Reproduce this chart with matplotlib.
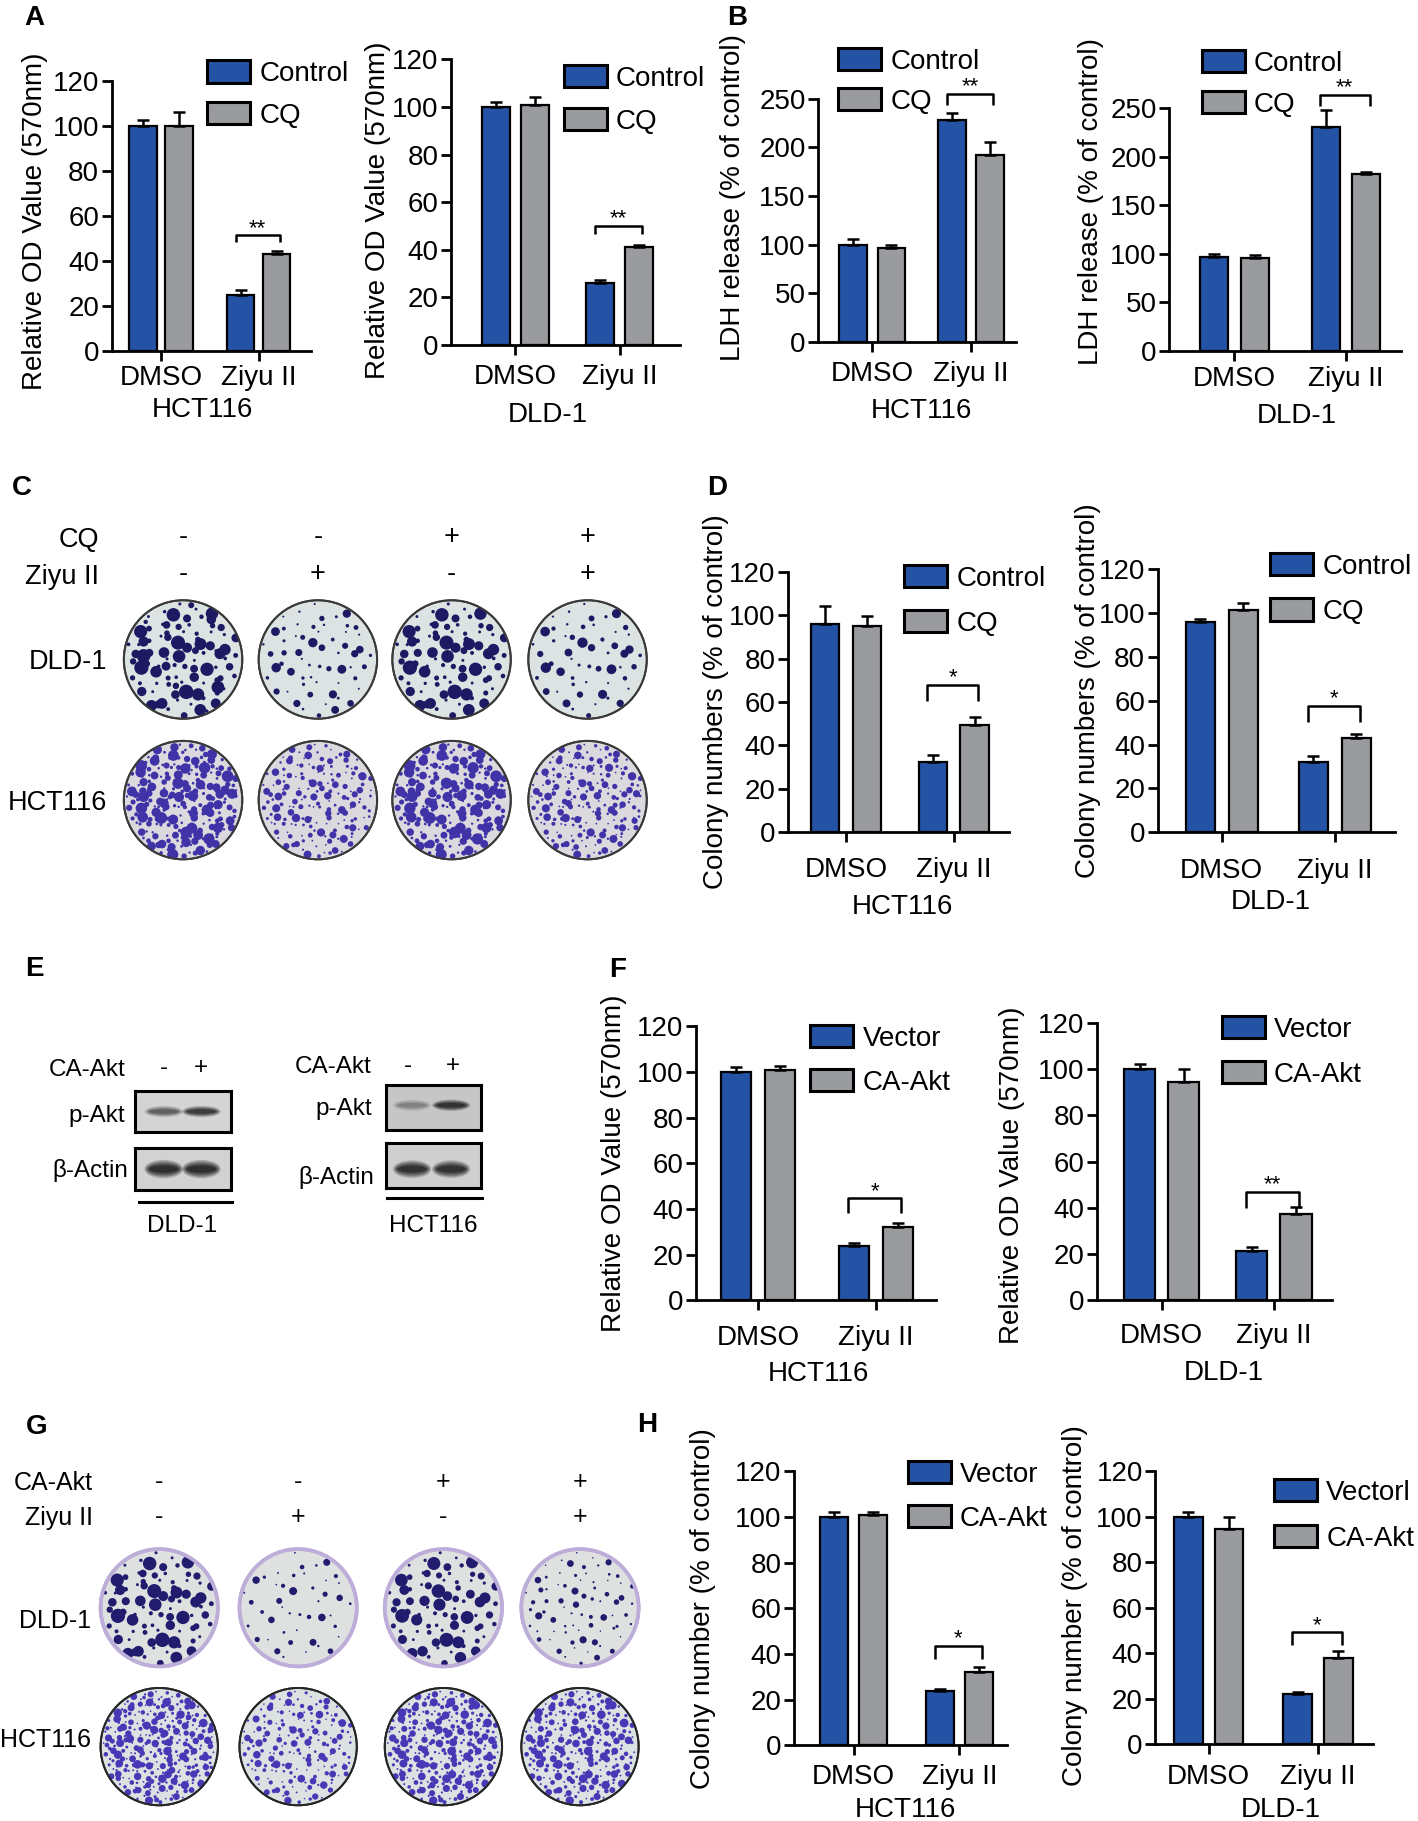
import matplotlib
matplotlib.use('Agg')
import matplotlib.pyplot as plt
import matplotlib.transforms as mtrans
from matplotlib.patches import Rectangle, Circle, Ellipse
from matplotlib.lines import Line2D
import numpy as np

plt.rcParams['font.family'] = ['Liberation Sans', 'DejaVu Sans']

# ------------------------------------------------------------------ data
groups = ['DMSO', 'Ziyu II']

A_hct_control, A_hct_control_err = [100, 25], [3, 2]
A_hct_cq, A_hct_cq_err = [100, 43], [6.5, 1.3]
A_dld_control, A_dld_control_err = [100, 26], [2, 1.2]
A_dld_cq, A_dld_cq_err = [101, 41], [3, 1.2]

B_hct_control, B_hct_control_err = [100, 228], [5.5, 7]
B_hct_cq, B_hct_cq_err = [96, 192], [4, 14]
B_dld_control, B_dld_control_err = [97, 231], [2.5, 17]
B_dld_cq, B_dld_cq_err = [96, 182], [2.5, 2.5]

D_hct_control, D_hct_control_err = [96, 32.5], [8, 3]
D_hct_cq, D_hct_cq_err = [95, 49.5], [4.5, 3.5]
D_dld_control, D_dld_control_err = [96, 32], [1.5, 2.7]
D_dld_cq, D_dld_cq_err = [101.5, 43], [3, 1.7]

F_hct_vector, F_hct_vector_err = [100, 24], [2, 1]
F_hct_caakt, F_hct_caakt_err = [101, 32], [1.5, 2]
F_dld_vector, F_dld_vector_err = [100, 21.5], [2, 1.5]
F_dld_caakt, F_dld_caakt_err = [94.5, 37.5], [5.5, 3]

H_hct_vector, H_hct_vector_err = [100, 24], [2, 0.8]
H_hct_caakt, H_hct_caakt_err = [101, 32], [1.3, 2.2]
H_dld_vector, H_dld_vector_err = [100, 22], [2, 1.2]
H_dld_caakt, H_dld_caakt_err = [94.5, 38], [5.5, 3]

legend_cq = ['Control', 'CQ']
legend_akt = ['Vector', 'CA-Akt']
legend_akt_typo = ['Vectorl', 'CA-Akt']

ylab_od = 'Relative OD Value (570nm)'
ylab_ldh = 'LDH release (% of control)'
ylab_cols = 'Colony numbers (% of control)'
ylab_col = 'Colony number (% of control)'

# significance: label, bracket top, bracket leg end (data units)
sig_A = [('**', 51.4, 48.4), ('**', 50.2, 46.7)]
sig_B = [('**', 255, 244), ('**', 263.8, 251.7)]
sig_D = [('*', 68, 60.4), ('*', 57.7, 50.4)]
sig_F = [('*', 44.7, 38.3), ('**', 46.8, 40.1)]
sig_H = [('*', 43.5, 37.7), ('*', 49.3, 43.5)]

# colony-formation plates
C_treat_rows = [('CQ', ['-', '-', '+', '+']), ('Ziyu II', ['-', '+', '-', '+'])]
G_treat_rows = [('CA-Akt', ['-', '-', '+', '+']), ('Ziyu II', ['-', '+', '-', '+'])]
plate_rows = ['DLD-1', 'HCT116']
C_counts = [[95, 60, 85, 55], [210, 170, 200, 190]]
C_sizes = [[6.0, 4.0, 6.0, 4.4], [4.8, 3.4, 4.8, 3.4]]
G_counts = [[85, 45, 80, 75], [290, 180, 270, 240]]
G_sizes = [[6.0, 3.4, 5.8, 3.0], [3.5, 3.2, 3.6, 3.6]]

# western blots (relative band intensity per lane)
blot_lanes = ['-', '+']
E_dld_pakt = [0.55, 0.85]
E_dld_actin = [1.0, 1.0]
E_hct_pakt = [0.3, 0.95]
E_hct_actin = [0.95, 0.95]

# ------------------------------------------------------------------ layout helpers
BLUE = '#2453a6'
GRAY = '#9a9b9f'
W, H = 1220.0, 1567.0
fig = plt.figure(figsize=(14.18, 18.21), dpi=100)
EM = 0.358


def frect(x0, y0, x1, y1):
    return [x0 / W, 1 - y1 / H, (x1 - x0) / W, (y1 - y0) / H]


def ftext(x, y, s, fs, ha='left', **kw):
    tr = mtrans.offset_copy(fig.transFigure, fig=fig, x=0, y=-EM * fs, units='points')
    return fig.text(x / W, 1 - y / H, s, fontsize=fs, ha=ha, va='baseline', transform=tr, **kw)


def fline(x0, x1, y, lw=2.0):
    fig.add_artist(Line2D([x0 / W, x1 / W], [1 - y / H, 1 - y / H], transform=fig.transFigure,
                          color='black', lw=lw))


def legend(lx, ly, pitch, names, colors, fs=20):
    for i, (n, c) in enumerate(zip(names, colors)):
        top = ly + i * pitch
        fig.add_artist(Rectangle((lx / W, 1 - (top + 19) / H), 37 / W, 19 / H,
                                 transform=fig.transFigure, facecolor=c,
                                 edgecolor='black', lw=2.2))
        ftext(lx + 45, top + 9.5, n, fs)


def bar_chart(lay, s1, e1, s2, e2, names, ylabel, cell, sig, ymax=120, ystep=20):
    L, R, T, B = lay['box']
    c0, c1 = lay['c']
    sp = c1 - c0
    ax = fig.add_axes(frect(L, T, R, B))
    x = np.arange(len(groups))
    w = lay['bw'] / sp
    d = lay['hs'] / sp
    for xs, vals, errs, col in [(x - d, s1, e1, BLUE), (x + d, s2, e2, GRAY)]:
        ax.bar(xs, vals, w, color=col, edgecolor='black', linewidth=1.6, zorder=2)
        ax.errorbar(xs, vals, yerr=[np.zeros(len(errs)), errs], fmt='none', ecolor='black',
                    elinewidth=1.8, capsize=4.5, capthick=1.8, zorder=3)
    ax.set_xlim((L - c0) / sp, (R - c0) / sp)
    ax.set_ylim(0, ymax)
    ax.set_yticks(np.arange(0, ymax + 1, ystep))
    ax.set_xticks(x)
    ax.set_xticklabels(groups)
    for s in ['top', 'right']:
        ax.spines[s].set_visible(False)
    for s in ['left', 'bottom']:
        ax.spines[s].set_linewidth(2.0)
        ax.spines[s].set_capstyle('projecting')
    ax.set_facecolor('none')
    pad = max((lay['ty'] - B - 8.6 - 9) * 0.837, 0.5)
    ax.tick_params(axis='x', length=7.5, width=2.0, labelsize=20, pad=pad)
    ax.tick_params(axis='y', length=7.5, width=2.0, labelsize=20, pad=1.5)
    ax.set_ylabel(ylabel, fontsize=20, va='center')
    yx, yy = lay['yl']
    ax.yaxis.set_label_coords((yx - L) / (R - L), (B - yy) / (B - T))
    ax.set_xlabel(cell, fontsize=20, va='center')
    cx, cy = lay['cl']
    ax.xaxis.set_label_coords((cx - L) / (R - L), (B - (cy + 2.4)) / (B - T))
    lab, top, leg = sig
    xa, xb = 1 - d - 0.05, 1 + d + 0.03
    ax.plot([xa, xa, xb, xb], [leg, top, top, leg], color='black', lw=1.8, clip_on=False,
            solid_capstyle='butt')
    ax.annotate(lab, xy=((xa + xb) / 2, top), xytext=(0, 1), textcoords='offset points',
                ha='center', va='baseline', fontsize=16, annotation_clip=False)
    lx, ly, lp = lay['lg']
    legend(lx, ly, lp, names, [BLUE, GRAY])
    return ax


def halton(n, base):
    out = np.zeros(n)
    for i in range(n):
        f, r, k = 1.0, 0.0, i + 1
        while k > 0:
            f /= base
            r += f * (k % base)
            k //= base
        out[i] = r
    return out


def plate(xc, yc, diam, n, size, face, edge, elw, colony):
    ax = fig.add_axes(frect(xc - diam / 2, yc - diam / 2, xc + diam / 2, yc + diam / 2))
    ax.set_xlim(-1.04, 1.04)
    ax.set_ylim(-1.04, 1.04)
    ax.set_aspect('equal')
    ax.axis('off')
    dish = Circle((0, 0), 1, facecolor=face, edgecolor=edge, lw=elw, zorder=1)
    ax.add_patch(dish)
    rr = 0.97 * np.sqrt(halton(n, 2))
    th = 2 * np.pi * halton(n, 3)
    sz = size * (0.35 + 1.45 * halton(n, 5) ** 2)
    sc = ax.scatter(rr * np.cos(th), rr * np.sin(th), s=sz ** 2, c=colony,
                    edgecolors='none', zorder=2)
    sc.set_clip_path(dish)
    ax.add_patch(Circle((0, 0), 1, facecolor='none', edgecolor=edge, lw=elw, zorder=3))


def blot(box, intens, bh, by, face, lanes=(0.6, 1.38)):
    ax = fig.add_axes(frect(*box))
    ax.set_xlim(0, 2)
    ax.set_ylim(0, 1)
    ax.set_facecolor(face)
    ax.set_xticks([])
    ax.set_yticks([])
    for s in ax.spines.values():
        s.set_linewidth(2.2)
    for lx, it in zip(lanes, intens):
        for f, a in [(1.0, 0.22), (0.82, 0.3), (0.62, 0.4), (0.4, 0.5)]:
            ax.add_patch(Ellipse((lx, by), 0.8 * (0.6 + 0.4 * f), bh * f,
                                 facecolor='#101010', edgecolor='none', alpha=a * it))


# ------------------------------------------------------------------ panel A
bar_chart(dict(box=(96, 268, 70, 302), c=(138.5, 222.5), bw=23.5, hs=15.5, ty=323,
               yl=(30, 190), cl=(174, 350), lg=(178, 52, 36)),
          A_hct_control, A_hct_control_err, A_hct_cq, A_hct_cq_err,
          legend_cq, ylab_od, 'HCT116', sig_A[0])
bar_chart(dict(box=(388, 585, 51, 297), c=(443.5, 533), bw=24, hs=17, ty=322,
               yl=(325, 181), cl=(471, 355), lg=(485, 56, 37)),
          A_dld_control, A_dld_control_err, A_dld_cq, A_dld_cq_err,
          legend_cq, ylab_od, 'DLD-1', sig_A[1])

# ------------------------------------------------------------------ panel B
bar_chart(dict(box=(704, 874, 85, 294), c=(750.5, 835.5), bw=24, hs=16.5, ty=319,
               yl=(631, 170), cl=(793, 351), lg=(721, 41, 35)),
          B_hct_control, B_hct_control_err, B_hct_cq, B_hct_cq_err,
          legend_cq, ylab_ldh, 'HCT116', sig_B[0], ymax=250, ystep=50)
bar_chart(dict(box=(1006, 1205, 93, 302), c=(1062, 1158), bw=24, hs=17.5, ty=324,
               yl=(939, 173), cl=(1116, 356), lg=(1034, 43, 35)),
          B_dld_control, B_dld_control_err, B_dld_cq, B_dld_cq_err,
          legend_cq, ylab_ldh, 'DLD-1', sig_B[1], ymax=250, ystep=50)

# ------------------------------------------------------------------ panel D
bar_chart(dict(box=(678, 868, 492, 716), c=(728, 820.5), bw=24.5, hs=18, ty=746,
               yl=(616, 604), cl=(776, 778), lg=(778, 486, 39)),
          D_hct_control, D_hct_control_err, D_hct_cq, D_hct_cq_err,
          legend_cq, ylab_cols, 'HCT116', sig_D[0])
bar_chart(dict(box=(996, 1200, 490, 716), c=(1051, 1148.5), bw=25, hs=18.5, ty=747,
               yl=(936, 594), cl=(1093, 774), lg=(1093, 476, 39)),
          D_dld_control, D_dld_control_err, D_dld_cq, D_dld_cq_err,
          legend_cq, ylab_cols, 'DLD-1', sig_D[1])

# ------------------------------------------------------------------ panel F
bar_chart(dict(box=(599, 805, 883, 1119), c=(652, 753.5), bw=25.5, hs=19, ty=1149,
               yl=(528, 1001), cl=(704, 1180), lg=(697, 882, 38)),
          F_hct_vector, F_hct_vector_err, F_hct_caakt, F_hct_caakt_err,
          legend_akt, ylab_od, 'HCT116', sig_F[0])
bar_chart(dict(box=(944, 1146, 880, 1119), c=(999.5, 1096), bw=27, hs=19, ty=1147,
               yl=(871, 1011), cl=(1053, 1179), lg=(1051, 874, 39)),
          F_dld_vector, F_dld_vector_err, F_dld_caakt, F_dld_caakt_err,
          legend_akt, ylab_od, 'DLD-1', sig_F[1])

# ------------------------------------------------------------------ panel H
bar_chart(dict(box=(683, 866, 1266, 1502), c=(734.5, 825.5), bw=24, hs=16.8, ty=1527,
               yl=(605, 1384), cl=(779, 1555), lg=(781, 1257, 38)),
          H_hct_vector, H_hct_vector_err, H_hct_caakt, H_hct_caakt_err,
          legend_akt, ylab_col, 'HCT116', sig_H[0])
bar_chart(dict(box=(994, 1181, 1266, 1501), c=(1040, 1134), bw=24.5, hs=17.5, ty=1527,
               yl=(925, 1382), cl=(1102, 1555), lg=(1096, 1273, 39)),
          H_dld_vector, H_dld_vector_err, H_dld_caakt, H_dld_caakt_err,
          legend_akt_typo, ylab_col, 'DLD-1', sig_H[1])

# ------------------------------------------------------------------ panel C (plates)
C_cols = [157.5, 273.5, 388.5, 505.5]
C_rows_y = [567.5, 688.5]
for (lab, signs), ty in zip(C_treat_rows, [462, 494]):
    ftext(85, ty, lab, 19.5, ha='right')
    for xc, s in zip(C_cols, signs):
        ftext(xc, ty - 2, s, 19.5, ha='center')
C_style = [dict(face='#dce3e2', edge='#3a3a3a', elw=1.4, colony='#1d1a63'),
           dict(face='#dbd8de', edge='#3a3a3a', elw=1.4, colony='#4033a8')]
for r, (name, yc) in enumerate(zip(plate_rows, C_rows_y)):
    ftext(92, yc, name, 19.5, ha='right')
    for c, xc in enumerate(C_cols):
        st = C_style[r]
        plate(xc, yc, 106, C_counts[r][c], C_sizes[r][c], st['face'], st['edge'], st['elw'],
              st['colony'])

# ------------------------------------------------------------------ panel G (plates)
G_cols = [137, 256.5, 381.5, 499]
G_rows_y = [1383.5, 1503]
for (lab, signs), ty in zip(G_treat_rows, [1274.5, 1304.5]):
    ftext(80, ty, lab, 18, ha='right')
    for xc, s in zip(G_cols, signs):
        ftext(xc, ty - 1, s, 18, ha='center')
G_style = [dict(face='#dfe1e1', edge='#bcaed9', elw=2.6, colony='#211c6e'),
           dict(face='#dce2e2', edge='#262626', elw=1.4, colony='#4838b6')]
for r, (name, yc) in enumerate(zip(plate_rows, [1393, 1495.5])):
    ftext(78, yc, name, 18, ha='right')
    for c, xc in enumerate(G_cols):
        st = G_style[r]
        plate(xc, G_rows_y[r], 105, G_counts[r][c], G_sizes[r][c], st['face'], st['edge'],
              st['elw'], st['colony'])

# ------------------------------------------------------------------ panel E (blots)
EFS = 17.5
# DLD-1
ftext(108, 918.5, 'CA-Akt', EFS, ha='right')
for xc, s in zip([141, 173], blot_lanes):
    ftext(xc, 917, s, EFS, ha='center')
blot((116, 939, 199, 974), E_dld_pakt, 0.28, 0.5, '#d4d4d4')
blot((116, 988, 199, 1024), E_dld_actin, 0.44, 0.5, '#d2d2d2')
ftext(108, 958, 'p-Akt', EFS, ha='right')
ftext(110, 1005, 'β-Actin', EFS, ha='right')
fline(120, 200, 1034, lw=2.2)
ftext(157, 1053, 'DLD-1', EFS, ha='center')
# HCT116
ftext(320, 916, 'CA-Akt', EFS, ha='right')
for xc, s in zip([351, 390], blot_lanes):
    ftext(xc, 915, s, EFS, ha='center')
blot((332, 934, 414, 972), E_hct_pakt, 0.26, 0.55, '#c6c6c6', lanes=(0.55, 1.37))
blot((332, 984, 414, 1022), E_hct_actin, 0.4, 0.42, '#cfcfcf', lanes=(0.55, 1.37))
ftext(320, 952, 'p-Akt', EFS, ha='right')
ftext(322, 1011, 'β-Actin', EFS, ha='right')
fline(333, 415, 1031, lw=2.2)
ftext(373, 1053, 'HCT116', EFS, ha='center')

# ------------------------------------------------------------------ panel letters
for letter, x, y in [('A', 21, 13), ('B', 626, 13), ('C', 10, 417), ('D', 608, 417),
                     ('E', 22, 831), ('F', 524, 832), ('G', 22, 1225), ('H', 548, 1224)]:
    ftext(x, y, letter, 20, ha='left', fontweight='bold')

fig.savefig('out.png', dpi=100)
